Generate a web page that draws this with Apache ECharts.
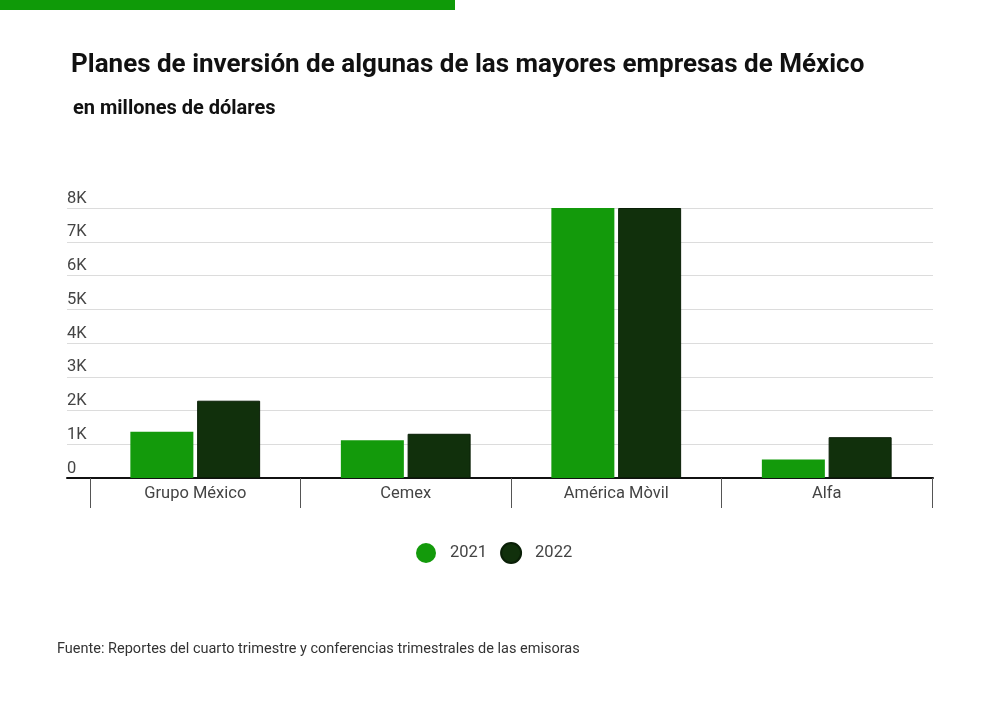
<!DOCTYPE html>
<html>
<head>
<meta charset="utf-8">
<script src="https://cdn.jsdelivr.net/npm/echarts@6/dist/echarts.min.js"></script>
<style>
  html, body { margin: 0; padding: 0; background: #fff; }
  #chart { width: 1000px; height: 701px; }
</style>
</head>
<body>
<div id="chart"></div>
<script>
var empresas = ["Grupo México", "Cemex", "América Mòvil", "Alfa"];
var valores2021 = [1370, 1120, 8000, 550];
var valores2022 = [2290, 1310, 8000, 1210];
var yTicks = [0, 1000, 2000, 3000, 4000, 5000, 6000, 7000, 8000];

var verdeClaro = "#139a0b";
var verdeOscuro = "#11300c";
var fuente = "Roboto, 'Liberation Sans', sans-serif";

var chart = echarts.init(document.getElementById("chart"));

chart.setOption({
    backgroundColor: "#fff",
    animation: false,
    title: [{
        text: "Planes de inversión de algunas de las mayores empresas de México",
        left: 66, top: 47,
        textStyle: { fontFamily: fuente, fontSize: 26, fontWeight: "bold", color: "#111" }
    }, {
        text: "en millones de dólares",
        left: 68, top: 94,
        textStyle: { fontFamily: fuente, fontSize: 20, fontWeight: "bold", color: "#111" }
    }],
    legend: {
        left: 411, top: 537,
        icon: "circle",
        itemWidth: 20, itemHeight: 20,
        itemGap: 13,
        textStyle: { fontFamily: fuente, fontSize: 16.5, color: "#444", padding: [0, 0, 0, 9] },
        data: ["2021", "2022"]
    },
    graphic: [{
        type: "rect",
        shape: { x: 0, y: 0, width: 455, height: 10 },
        style: { fill: "#0f9a08" }
    }, {
        type: "text",
        left: 57, top: 642,
        style: {
            text: "Fuente: Reportes del cuarto trimestre y conferencias trimestrales de las emisoras",
            font: "14.5px " + fuente,
            fill: "#333"
        }
    }],
    grid: [
        { left: 67, right: 67, top: 208, bottom: 223 },
        { left: 90, right: 68, top: 208, bottom: 223 }
    ],
    xAxis: [{
        gridIndex: 0, type: "value", min: 0, max: 1,
        axisLine: { show: true, onZero: false, lineStyle: { color: "#111", width: 2 } },
        axisTick: { show: false }, axisLabel: { show: false }, splitLine: { show: false }
    }, {
        gridIndex: 1, type: "category", data: empresas,
        axisLine: { show: false },
        axisTick: { show: true, length: 30, lineStyle: { color: "#555", width: 1 } },
        axisLabel: { fontFamily: fuente, fontSize: 16.5, color: "#444", margin: 7 }
    }],
    yAxis: [{
        gridIndex: 0, type: "value", min: yTicks[0], max: yTicks[yTicks.length - 1], interval: 1000,
        axisLine: { show: false }, axisTick: { show: false },
        splitLine: { lineStyle: { color: "#dcdcdc", width: 1 } },
        axisLabel: {
            inside: true, margin: 0,
            verticalAlign: "bottom", padding: [0, 0, 1, 0],
            fontFamily: fuente, fontSize: 16.5, color: "#444",
            formatter: function (v) { return v === 0 ? "0" : (v / 1000) + "K"; }
        }
    }, {
        gridIndex: 1, type: "value", min: yTicks[0], max: yTicks[yTicks.length - 1],
        show: false
    }],
    series: [{
        name: "2021", type: "bar", xAxisIndex: 1, yAxisIndex: 1,
        data: valores2021, barWidth: 63, barGap: "6%",
        itemStyle: { color: verdeClaro }
    }, {
        name: "2022", type: "bar", xAxisIndex: 1, yAxisIndex: 1,
        data: valores2022, barWidth: 63, barGap: "6%",
        itemStyle: { color: verdeOscuro, borderColor: "#0a1f07", borderWidth: 1 }
    }]
});
</script>
</body>
</html>
